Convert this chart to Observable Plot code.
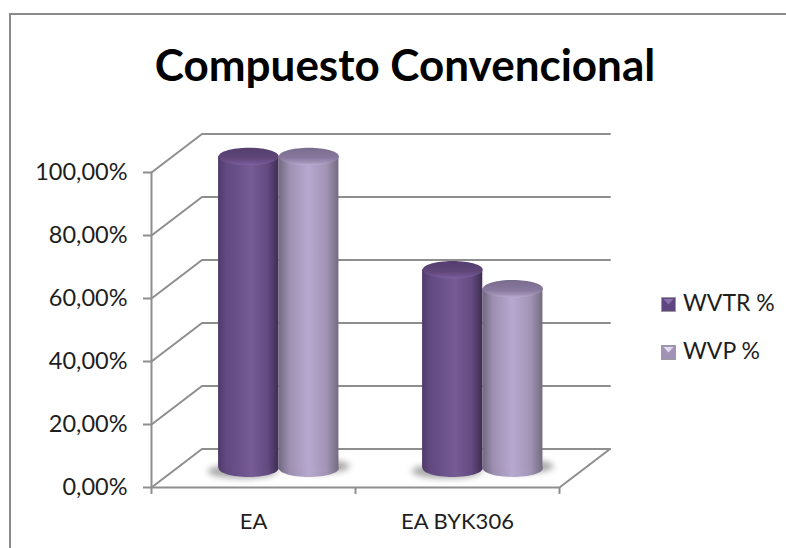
<!DOCTYPE html>
<html lang="es">
<head>
<meta charset="utf-8">
<script src="https://cdn.jsdelivr.net/npm/d3@7"></script>
<script src="https://cdn.jsdelivr.net/npm/@observablehq/plot@0.6"></script>
<style>
html,body{margin:0;padding:0;background:#fff}
#page{position:relative;width:786px;height:548px;overflow:hidden;font-family:Lato,sans-serif;color:#1e1e1e}
#border{position:absolute;left:9px;top:13px;right:-5px;bottom:-5px;border:2px solid #8a8a8a}
#title{position:absolute;left:0;top:36px;width:810px;text-align:center;font-size:44px;font-weight:700;color:#000;line-height:56px;white-space:nowrap}
#chart{position:absolute;left:0;top:0}
.lg{position:absolute;left:661px;display:flex;align-items:center;height:24px;font-size:23px;white-space:nowrap}
.lg b{font-weight:400;position:relative;top:-2px}
.sw{position:relative;width:13px;height:13px;border:1px solid #9b9b9b;margin-right:7px;box-sizing:content-box}
.sw i{position:absolute;left:1px;top:1px;width:11px;height:6px;clip-path:polygon(0 0,100% 0,50% 100%)}
</style>
</head>
<body>
<div id="page">
  <div id="border"></div>
  <div id="title">Compuesto Convencional</div>
  <div id="chart"></div>
  <div class="lg" style="top:292px"><span class="sw" style="background:#5f4680"><i style="background:#8a70ad"></i></span><b>WVTR %</b></div>
  <div class="lg" style="top:340px"><span class="sw" style="background:#a193b5"><i style="background:#e2dbef"></i></span><b>WVP %</b></div>
</div>
<script>
const categories = ["EA", "EA BYK306"];
const wvtr = [0.99, 0.63];
const wvp = [0.99, 0.57];
const yTicks = [0, 0.2, 0.4, 0.6, 0.8, 1];
const xEdges = [0, 1, 2];

// 3D oblique offset of the back wall, in data units
const depthX = 50.5 / 204;
const depthY = 38.5 / 315;
const barWidth = 0.295;
const gray = "#8e8e8e";

const pct = d => d3.format(".2f")(d * 100).replace(".", ",") + "%";
const ellipse = ratio => ({
  draw(c, size) {
    const rx = Math.sqrt(size / Math.PI), ry = rx * ratio, k = 0.5523;
    c.moveTo(-rx, 0);
    c.bezierCurveTo(-rx, -k * ry, -k * rx, -ry, 0, -ry);
    c.bezierCurveTo(k * rx, -ry, rx, -k * ry, rx, 0);
    c.bezierCurveTo(rx, k * ry, k * rx, ry, 0, ry);
    c.bezierCurveTo(-k * rx, ry, -rx, k * ry, -rx, 0);
    c.closePath();
  }
});

const wallLines = [
  ...yTicks.flatMap(v => [
    {k: "g" + v, x: 0, y: v},
    {k: "g" + v, x: depthX, y: v + depthY},
    {k: "g" + v, x: 2 + depthX, y: v + depthY}
  ]),
  {k: "base", x: 0, y: 0}, {k: "base", x: 2, y: 0}, {k: "base", x: 2 + depthX, y: depthY},
  {k: "axis", x: 0, y: 0}, {k: "axis", x: 0, y: 1}
];

const barsOf = (values, s) => values.map((v, i) => {
  const x1 = i + 0.5 + (s - 1) * barWidth + depthX / 2;
  return {x1, x2: x1 + barWidth, xc: x1 + barWidth / 2, y1: depthY / 2, y2: v + depthY / 2};
});

function cylinder(values, s, body, cap) {
  const d = barsOf(values, s);
  return [
    Plot.dot(d, {x: "xc", y: "y1", r: 30, symbol: ellipse(0.29), fill: `url(#${body})`, stroke: "none"}),
    Plot.rect(d, {x1: "x1", x2: "x2", y1: "y1", y2: "y2", fill: `url(#${body})`}),
    Plot.dot(d, {x: "xc", y: "y2", r: 30, symbol: ellipse(0.29), fill: `url(#${cap})`, stroke: "none"})
  ];
}

function shadow(values, s, dx, dy) {
  return Plot.dot(barsOf(values, s), {
    x: "xc", y: "y1", r: 35, dx, dy, symbol: ellipse(0.2),
    fill: "#777", fillOpacity: 0.65, stroke: "none", imageFilter: "blur(3px)"
  });
}

function stops(list) {
  return list.map(([o, c]) => `<stop offset="${o}" stop-color="${c}"/>`).join("");
}
const defs = () => {
  const el = document.createElementNS("http://www.w3.org/2000/svg", "defs");
  el.innerHTML = `
  <linearGradient id="bodyA">${stops([[0, "#4f3a6a"], [0.12, "#61487f"], [0.55, "#765b95"], [0.82, "#644a80"], [0.97, "#44325a"], [1, "#3e2e52"]])}</linearGradient>
  <linearGradient id="bodyB">${stops([[0, "#6f6780"], [0.18, "#9d8fb0"], [0.5, "#b7a8d0"], [0.8, "#a294b5"], [1, "#736c80"]])}</linearGradient>
  <linearGradient id="capA" x1="0" y1="0" x2="0" y2="1">${stops([[0, "#553d6e"], [0.6, "#604679"], [0.85, "#6f5490"], [1, "#7d62a1"]])}</linearGradient>
  <linearGradient id="capB" x1="0" y1="0" x2="0" y2="1">${stops([[0, "#7a6c8e"], [0.6, "#88799e"], [0.85, "#a193b6"], [1, "#baabd2"]])}</linearGradient>`;
  return el;
};

const chart = Plot.plot({
  width: 786,
  height: 548,
  marginLeft: 151,
  marginRight: 227,
  marginTop: 172,
  marginBottom: 61,
  style: {background: "transparent", fontFamily: "Lato, sans-serif", overflow: "visible"},
  x: {domain: [0, 2], label: null},
  y: {domain: [0, 1], label: null},
  marks: [
    defs,
    Plot.line(wallLines, {x: "x", y: "y", z: "k", stroke: gray, strokeWidth: 2, strokeLinejoin: "miter"}),
    Plot.ruleX(xEdges, {y1: 0, y2: -0.022, stroke: gray, strokeWidth: 2}),
    Plot.axisY({ticks: yTicks, tickSize: 8, tickPadding: 16, tickFormat: pct, stroke: gray, strokeWidth: 2, fill: "#1e1e1e", fontSize: 23.5, label: null}),
    Plot.axisX({ticks: categories.map((c, i) => i + 0.5), tickSize: 0, tickPadding: 26, tickFormat: d => categories[d - 0.5], fill: "#1e1e1e", fontSize: 22, label: null}),
    shadow(wvtr, 0, -6, 3),
    shadow(wvp, 1, 6, -2),
    ...cylinder(wvtr, 0, "bodyA", "capA"),
    ...cylinder(wvp, 1, "bodyB", "capB")
  ]
});
document.getElementById("chart").appendChild(chart);
</script>
</body>
</html>
